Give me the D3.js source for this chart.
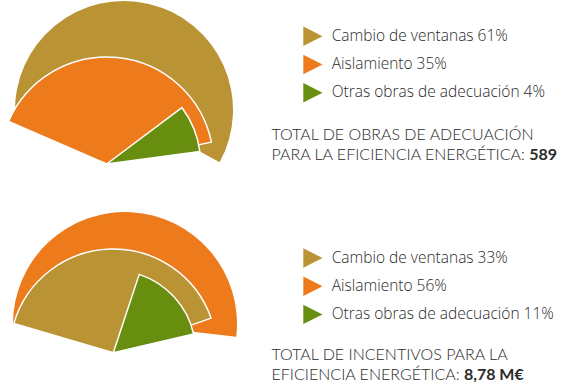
<!DOCTYPE html>
<html>
<head>
<meta charset="utf-8">
<script src="https://cdn.jsdelivr.net/npm/d3@7"></script>
<style>
  html, body { margin: 0; padding: 0; background: #fff; }
  svg { display: block; }
  text { font-family: "Open Sans", Lato, sans-serif; fill: #2a2a2a; }
  text.total { font-family: Lato, "Open Sans", sans-serif; }
</style>
</head>
<body>
<svg id="chart" width="574" height="392"></svg>
<script>
// ---------- data ----------
const categories = ["Cambio de ventanas", "Aislamiento", "Otras obras de adecuación"];
const obrasValues = [61, 35, 4];        // % of works
const incentivosValues = [33, 56, 11];  // % of incentives
const categoryColors = ["#BA9434", "#ED7B1C", "#688E10"];
const totalTitles = [
  ["TOTAL DE OBRAS DE ADECUACIÓN", "PARA LA EFICIENCIA ENERGÉTICA: "],
  ["TOTAL DE INCENTIVOS PARA LA", "EFICIENCIA ENERGÉTICA: "]
];
const totalValues = ["589", "8,78 M€"];

// ---------- scales ----------
// sweep (degrees) of each slice as drawn in the infographic
const sweepScale = d3.scaleLinear()
  .domain([4, 11, 33, 35, 56, 61])
  .range([29.3, 58.6, 144.1, 144.7, 186.5, 211]);
const color = d3.scaleOrdinal().domain(categories).range(categoryColors);
const rad = d => d * Math.PI / 180;

// ---------- layout ----------
const charts = [
  { values: obrasValues, apex: [106.7, 164],
    layers: [ { dx: 17.3, dy: -54, r: 109, end: 118.7 },
              { dx: 0, dy: 0, r: 107, end: 78.2 },
              { dx: 0, dy: 0, r: 94, end: 82.4 } ],
    legendY: 36.3, titleY: 140.3 },
  { values: incentivosValues, apex: [113.3, 352.7],
    layers: [ { dx: 11.7, dy: -28.7, r: 112, end: 96.5 },
              { dx: 0, dy: 0, r: 103.7, end: 70.5 },
              { dx: 0, dy: 0, r: 82.5, end: 76.9 } ],
    legendY: 258, titleY: 359.7 }
];

const svg = d3.select("#chart");
const arc = d3.arc().innerRadius(0);

charts.forEach((c, ci) => {
  const items = categories.map((cat, i) => ({ cat, value: c.values[i] }))
    .sort((a, b) => d3.descending(a.value, b.value));
  const g = svg.append("g").attr("transform", `translate(${c.apex[0]},${c.apex[1]})`);
  items.forEach((d, rank) => {
    const L = c.layers[rank];
    const sweep = sweepScale(d.value);
    g.append("path")
      .attr("transform", `translate(${L.dx},${L.dy})`)
      .attr("d", arc({ outerRadius: L.r, startAngle: rad(L.end - sweep), endAngle: rad(L.end) }))
      .attr("fill", color(d.cat))
      .attr("stroke", rank === 0 ? "none" : "#fff")
      .attr("stroke-width", 1.5)
      .attr("stroke-linejoin", "round");
  });

  // legend
  const rowStep = 28.2;
  const leg = svg.append("g");
  categories.forEach((cat, i) => {
    const cy = c.legendY + i * rowStep;
    leg.append("path")
      .attr("d", `M303.3,${cy - 9.7}L322.5,${cy}L303.3,${cy + 9.7}Z`)
      .attr("fill", color(cat));
    leg.append("text")
      .attr("x", 331.7).attr("y", cy + 4.6)
      .attr("font-size", 15.5).attr("font-weight", 300)
      .text(`${cat} ${c.values[i]}%`);
  });

  // total title (two lines)
  totalTitles[ci].forEach((line, li) => {
    const tx = svg.append("text").attr("class", "total")
      .attr("x", 271.5).attr("y", c.titleY + li * 20)
      .attr("font-size", 16).attr("font-weight", 300);
    tx.append("tspan").text(line);
    if (li === 1) tx.append("tspan").attr("font-weight", 700).text(totalValues[ci]);
  });
});
</script>
</body>
</html>
